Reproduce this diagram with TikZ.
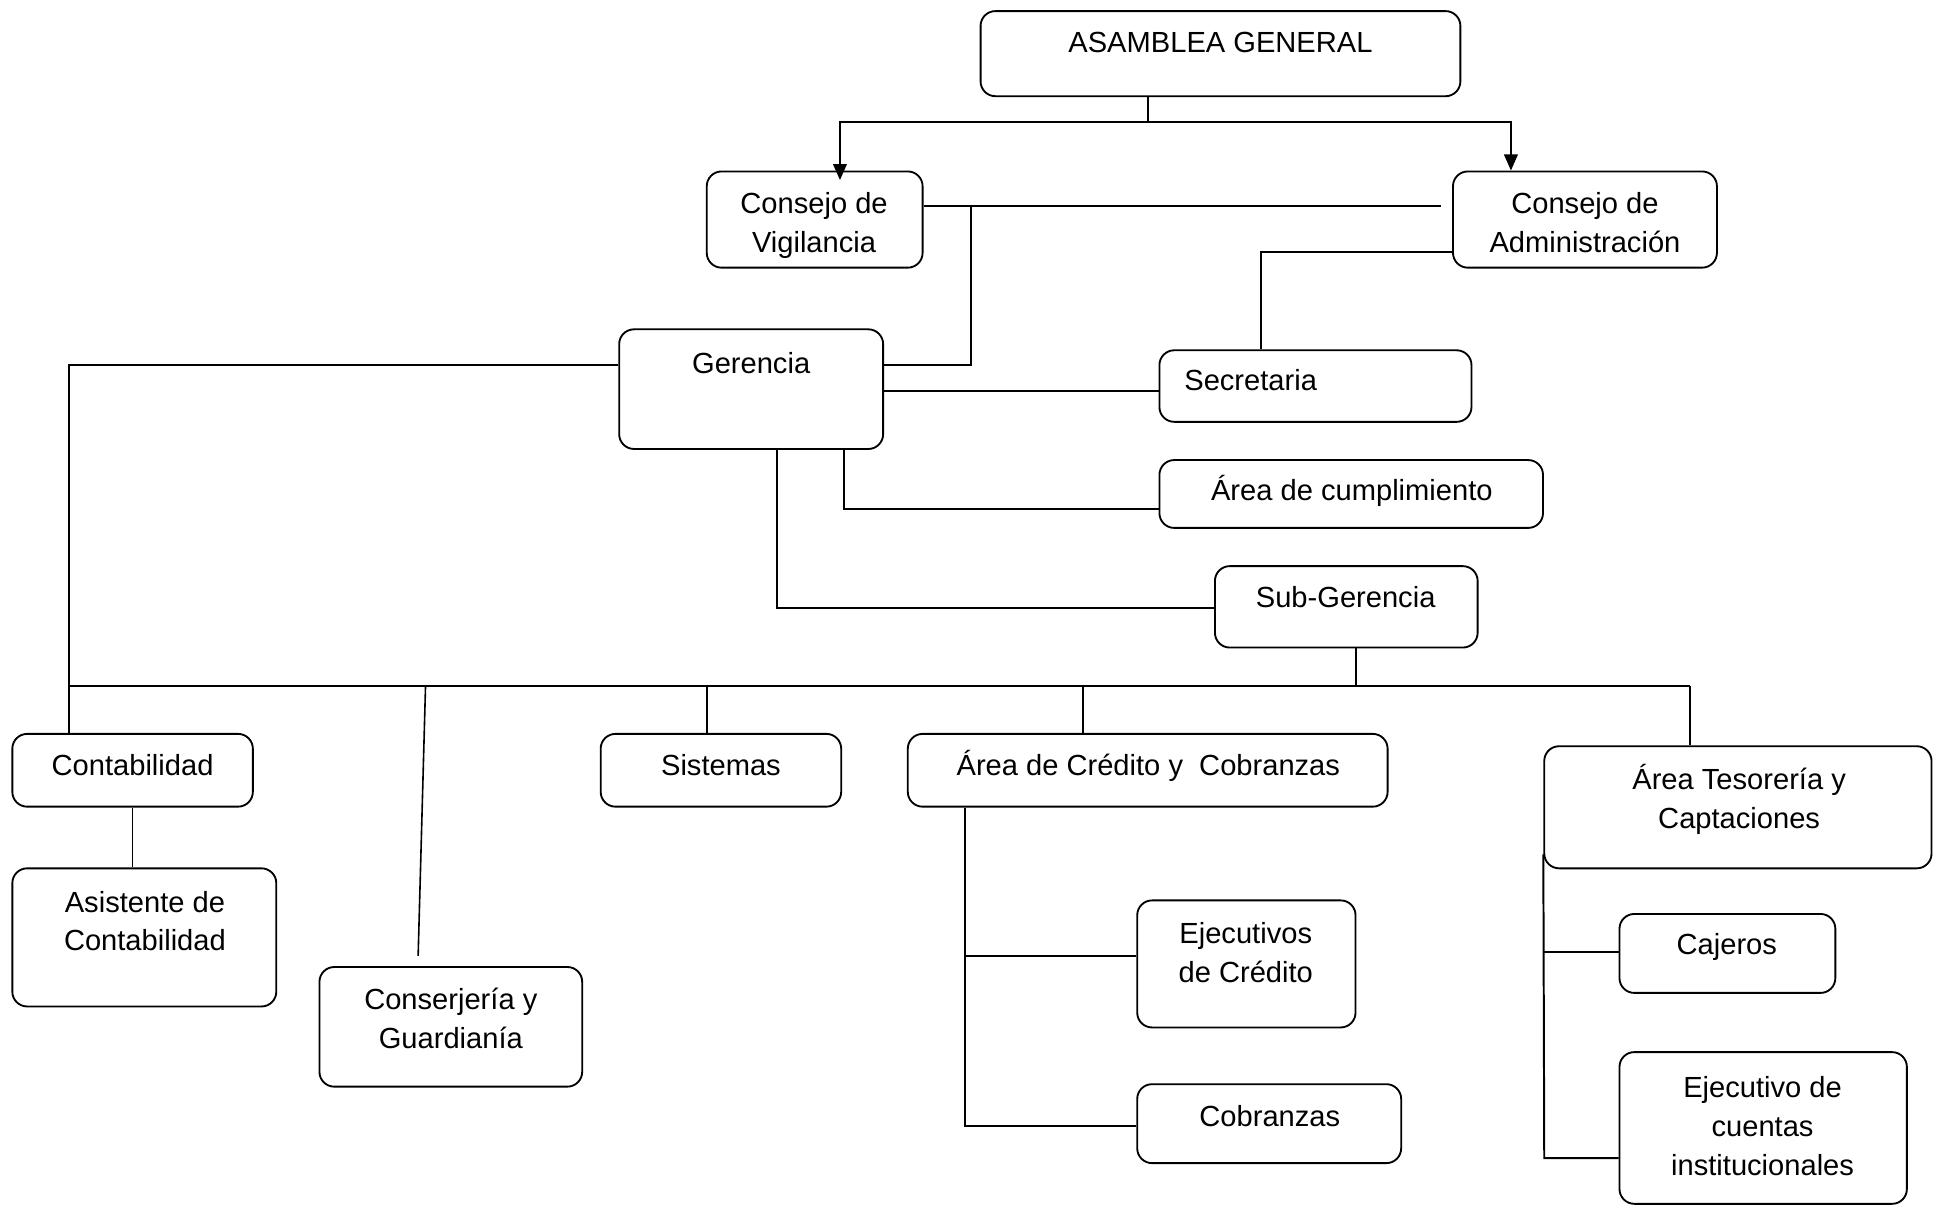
\documentclass[tikz,border=0pt]{standalone}
\usepackage{fontspec}
\setmainfont{Liberation Sans}
\usetikzlibrary{arrows.meta}
\newcommand\obox[5]{\node[box, minimum width={#4-#2}, minimum height={#5-#3}] (#1) at ({(#2+#4)/2},{(#3+#5)/2}) {};}
\begin{document}
\begin{tikzpicture}[x=1pt,y=-1pt,
  box/.style={draw, line width=1.5pt, rounded corners=12pt, inner sep=0pt, fill=white},
  txt/.style={inner sep=0pt, align=center, font=\fontsize{23.6}{31.5}\selectfont, anchor=base},
  conn/.style={line width=1.6pt},
  thin conn/.style={line width=1.3pt},
  arr/.style={conn, -{Triangle[length=13pt,width=11pt]}}]
\useasboundingbox (0,0) rectangle (1568,979);
% boxes
\obox{ag}{795}{9}{1184}{78}
\obox{cv}{573}{139}{748}{217}
\obox{ca}{1178}{139}{1392}{217}
\obox{ge}{502}{267}{716}{364}
\obox{se}{940}{284}{1193}{342}
\obox{ac}{940}{373}{1251}{428}
\obox{sg}{985}{459}{1198}{525}
\obox{co}{10}{595}{205}{654}
\obox{si}{487}{595}{682}{654}
\obox{cr}{736}{595}{1125}{654}
\obox{te}{1252}{605}{1566}{704}
\obox{as}{10}{704}{224}{816}
\obox{cg}{259}{784}{472}{881}
\obox{ej}{922}{730}{1099}{833}
\obox{cb}{922}{879}{1136}{943}
\obox{cj}{1313}{741}{1488}{805}
\obox{ec}{1313}{853}{1546}{976}
% texts (base anchor = baseline of the last line)
\node[txt] (agt) at (989.5,42.5) {ASAMBLEA GENERAL};
\node[txt] (cvt) at (660,204.5) {Consejo de\\Vigilancia};
\node[txt] (cat) at (1285,204.5) {Consejo de\\Administración};
\node[txt] (get) at (609,302.6) {Gerencia};
\node[txt, anchor=base west] (set) at (960,317) {Secretaria};
\node[txt] (act) at (1096,405.4) {Área de cumplimiento};
\node[txt] (sgt) at (1091,492.3) {Sub-Gerencia};
\node[txt] (cot) at (107.5,629) {Contabilidad};
\node[txt] (sit) at (584.5,629) {Sistemas};
\node[txt] (crt) at (931,629) {Área de Crédito y\ \ Cobranzas};
\node[txt] (tet) at (1410,671.5) {Área Tesorería y\\Captaciones};
\node[txt] (ast) at (117.5,771) {Asistente de\\Contabilidad};
\node[txt] (cgt) at (365.5,850) {Conserjería y\\Guardianía};
\node[txt] (ejt) at (1010,796.5) {Ejecutivos\\de Crédito};
\node[txt] (cjt) at (1400,774) {Cajeros};
\node[txt] (cbt) at (1029.5,913) {Cobranzas};
\node[txt] (ect) at (1429,953) {Ejecutivo de\\cuentas\\institucionales};
% connectors
\coordinate (j0) at (931,99);
\draw[conn] (ag.south -| j0) -- (j0);
\draw[arr] (j0) -| (681,146);
\draw[arr] (j0) -| (ca.north -| 1225,0);
\draw[conn] (cv.east |- 0,167) -- (1168,167);
\draw[conn] (ge.east |- 0,296) -- (787,296) -- (787,167);
\draw[conn] (ca.west |- 0,204) -| (se.north -| 1022,0);
\draw[conn] (ge.east |- 0,317) -- (se.west |- 0,317);
\draw[conn] (ge.south -| 684,0) |- (ac.west |- 0,413);
\draw[thin conn] (ge.south -| 630,0) |- (sg.west |- 0,493);
\draw[thin conn] (ge.west |- 0,296) -| (co.north -| 56,0);
\coordinate (bus) at (1099,556);
\draw[conn] (sg.south -| bus) -- (bus);
\draw[conn] (56,556) -- (1370,556);
\draw[thin conn] (345,556) -- (339,775);
\draw[conn] (573,556) -- (si.north -| 573,0);
\draw[conn] (878,556) -- (cr.north -| 878,0);
\draw[thin conn] (1370,556) -- (te.north -| 1370,0);
\draw[thin conn] (co.south) -- (as.north -| co.south);
\draw[conn] (cr.south -| 782,0) -- (782,913) -- (cb.west |- 0,913);
\draw[conn] (782,775) -- (ej.west |- 0,775);
\draw[conn] (te.south west) ++(0,-12) -- (1252,939) -- (ec.west |- 0,939);
\draw[conn] (1252,772) -- (cj.west |- 0,772);
\end{tikzpicture}
\end{document}
